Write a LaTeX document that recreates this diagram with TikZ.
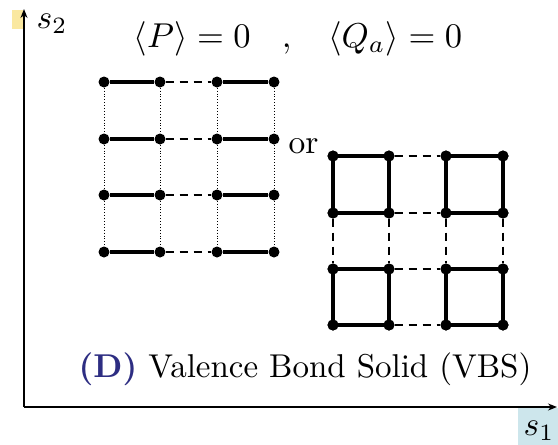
\documentclass[tikz,border=0pt]{standalone}
\usetikzlibrary{arrows.meta}
\definecolor{ylw}{RGB}{250,232,160}
\definecolor{lblue}{RGB}{205,230,236}
\definecolor{dblue}{RGB}{45,45,130}
\begin{document}
\begin{tikzpicture}[x=1pt,y=-1pt,
  site/.style={circle,fill=black,inner sep=0pt,minimum size=11pt},
  bond/.style={line width=3.8pt},
  weak/.style={line width=2.2pt,dash pattern=on 8pt off 6pt},
  dotline/.style={line width=0.9pt,dotted},
  axis/.style={line width=1.4pt,-{Stealth[length=9pt,width=7pt]}},
  lbl/.style={font=\normalsize,inner sep=0pt,scale=3.35}]
\useasboundingbox (0,0) rectangle (558,445);
\fill[ylw] (12,10) rectangle (23,29);
\fill[lblue] (518,408) rectangle (558,445);
\coordinate (O) at (24,407);
\coordinate (Y) at (24,9);
\coordinate (X) at (557,407);
\draw[axis] (O) -- (Y);
\draw[axis] (O) -- (X);
\node[lbl,anchor=base west] (s2) at (36,28) {$s_2$};
\node[lbl,anchor=base east] (s1) at (555,435) {$s_1$};
\node[lbl,scale=1.03,anchor=base west] (title) at (133,47) {$\langle P\rangle=0\hspace{9pt},\hspace{9pt}\langle Q_a\rangle=0$};
\node[lbl,anchor=base west] (or) at (288,153) {or};
\node[lbl,scale=0.985,anchor=base west] (cap) at (78,377) {\textcolor{dblue}{\textbf{(D)}} Valence Bond Solid (VBS)};
% left lattice
\foreach \i/\x in {1/104,2/160,3/217,4/274}
  \foreach \j/\y in {1/82,2/139,3/195,4/252}
    \node[site] (L\i\j) at (\x,\y) {};
\foreach \i in {1,...,4}{
  \draw[dotline] (L\i1) -- (L\i2);
  \draw[dotline] (L\i2) -- (L\i3);
  \draw[dotline] (L\i3) -- (L\i4);}
\foreach \j in {1,...,4}{
  \draw[bond] (L1\j) -- (L2\j);
  \draw[bond] (L3\j) -- (L4\j);
  \draw[weak] (L2\j) -- (L3\j);}
% right lattice
\foreach \i/\x in {1/333,2/389,3/446,4/503}
  \foreach \j/\y in {1/156,2/213,3/269,4/325}
    \node[site] (R\i\j) at (\x,\y) {};
\foreach \a/\b in {1/2,3/4}
  \foreach \c/\d in {1/2,3/4}{
    \draw[bond] (R\a\c.center) -- (R\b\c.center) -- (R\b\d.center) -- (R\a\d.center) -- cycle;}
\foreach \j in {1,...,4}
  \draw[weak] (R2\j) -- (R3\j);
\foreach \i in {1,...,4}
  \draw[weak] (R\i2) -- (R\i3);
\foreach \i in {1,...,4}
  \foreach \j in {1,...,4}
    \fill (R\i\j) circle (5.5pt);
\end{tikzpicture}
\end{document}
